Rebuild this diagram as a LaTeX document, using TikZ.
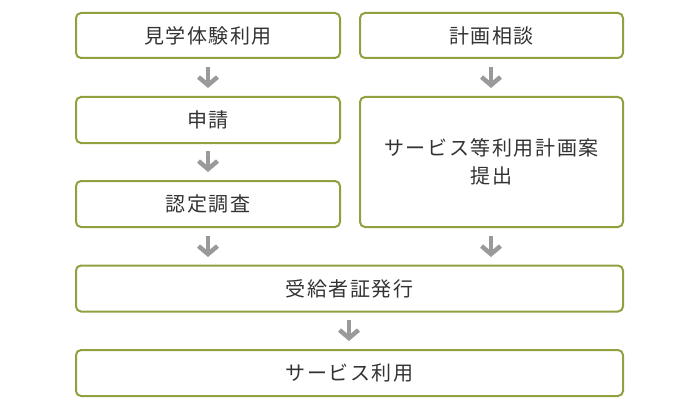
\documentclass[tikz,border=0pt]{standalone}
\usepackage{fontspec}
\newfontfamily\jp[LetterSpace=8]{Noto Sans CJK JP}
\usetikzlibrary{arrows.meta}
\definecolor{olive}{HTML}{8FA23F}
\definecolor{txt}{HTML}{333333}
\definecolor{arr}{HTML}{9A9A9A}
\tikzset{
  stepbox/.style={draw=olive, line width=2pt, rounded corners=5pt, fill=white,
    inner sep=0pt, font=\jp\fontsize{20}{28}\selectfont, text=txt, align=center},
  flowarrow/.style={draw=arr, line width=4.5pt, -{Straight Barb[length=8pt, width=19pt, line width=4.5pt]}}
}
\begin{document}
\begin{tikzpicture}[x=1pt,y=-1pt]
\useasboundingbox (0,0) rectangle (700,409);
\node[stepbox, minimum width=264pt, minimum height=45pt] (a) at (208,35.5) {見学体験利用};
\node[stepbox, minimum width=263pt, minimum height=45pt] (b) at (491.5,35.5) {計画相談};
\node[stepbox, minimum width=264pt, minimum height=46pt] (c) at (208,120) {申請};
\node[stepbox, minimum width=263pt, minimum height=130pt] (d) at (491.5,162) {サービス等利用計画案\\提出};
\node[stepbox, minimum width=264pt, minimum height=46pt] (e) at (208,204) {認定調査};
\node[stepbox, minimum width=547pt, minimum height=46pt] (f) at (349.5,288.5) {受給者証発行};
\node[stepbox, minimum width=547pt, minimum height=46pt] (g) at (349.5,373) {サービス利用};
\coordinate (a1) at (208,67); \coordinate (a2) at (208,88);
\coordinate (b1) at (491,67); \coordinate (b2) at (491,88);
\coordinate (c1) at (208,151); \coordinate (c2) at (208,172);
\coordinate (e1) at (208,236); \coordinate (e2) at (208,257);
\coordinate (d1) at (491,236); \coordinate (d2) at (491,257);
\coordinate (f1) at (349,320); \coordinate (f2) at (349,341);
\draw[flowarrow] (a1) -- (a2);
\draw[flowarrow] (b1) -- (b2);
\draw[flowarrow] (c1) -- (c2);
\draw[flowarrow] (e1) -- (e2);
\draw[flowarrow] (d1) -- (d2);
\draw[flowarrow] (f1) -- (f2);
\end{tikzpicture}
\end{document}
